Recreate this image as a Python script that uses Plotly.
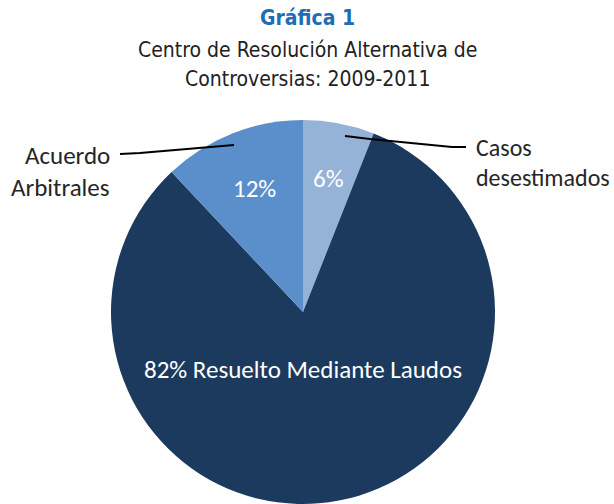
import plotly.graph_objects as go
import math

labels = ["Casos desestimados", "Resuelto Mediante Laudos", "Acuerdo Arbitrales"]
values = [6, 82, 12]
colors = ["#95B3D7", "#1B3A5E", "#5A8FCB"]
inside_text = ["6%", "82% Resuelto Mediante Laudos", "12%"]

W, H = 614, 504
dom_x = [110 / W, 496 / W]
dom_y = [0.0, 1 - 120 / H]

fig = go.Figure(go.Pie(
    labels=labels, values=values, sort=False, direction="clockwise", rotation=0,
    marker=dict(colors=colors, line=dict(width=0)),
    textinfo="none", hoverinfo="label+percent", showlegend=False,
    domain=dict(x=dom_x, y=dom_y),
))

# pie geometry in pixels
R = min((dom_x[1] - dom_x[0]) * W, (dom_y[1] - dom_y[0]) * H) / 2
cx = (dom_x[0] + dom_x[1]) / 2 * W
cy = H - (dom_y[0] + dom_y[1]) / 2 * H

def P(x, y):
    return x / W, 1 - y / H

lab_font = "Carlito, Lato, 'Open Sans', sans-serif"
total = sum(values)
start = 0.0
radial = [0.71, 0.30, 0.69]
ann = []
for i, v in enumerate(values):
    a0 = start
    a1 = start + v / total * 360
    start = a1
    mid = (a0 + a1) / 2
    if v / total > 0.5:
        px, py = cx, cy + radial[i] * R
    else:
        px = cx + radial[i] * R * math.sin(math.radians(mid))
        py = cy - radial[i] * R * math.cos(math.radians(mid))
    x, y = P(px, py)
    ann.append(dict(x=x, y=y, xref="paper", yref="paper", xanchor="center", yanchor="middle",
                    text=inside_text[i], showarrow=False,
                    font=dict(family=lab_font, size=25, color="white")))

# outside labels (one annotation per line)
for txt, xp, yp, xa, sz in [("Acuerdo", 112, 155, "right", 25), ("Arbitrales", 112, 187, "right", 25),
                            ("Casos", 474, 147, "left", 24), ("desestimados", 474, 177, "left", 24)]:
    x, y = P(xp, yp)
    ann.append(dict(x=x, y=y, xref="paper", yref="paper", xanchor=xa, yanchor="middle",
                    text=txt, showarrow=False,
                    font=dict(family=lab_font, size=sz, color="#262626")))

title_font = "'Liberation Sans Narrow', 'DejaVu Sans Condensed', 'Roboto Condensed', sans-serif"
for txt, yp, size, color in [("<b>Gráfica 1</b>", 18, 21, "#1F6DB5"),
                             ("Centro de Resolución Alternativa de", 50, 21, "#222222"),
                             ("Controversias: 2009-2011", 79, 21, "#222222")]:
    x, y = P(307, yp)
    ann.append(dict(x=x, y=y, xref="paper", yref="paper", xanchor="center", yanchor="middle",
                    text=txt, showarrow=False,
                    font=dict(family=title_font, size=size, color=color)))

shapes = []
for pts in [[(120, 154), (140, 153), (234, 145)], [(345, 136), (370, 139), (452, 147), (466, 147)]]:
    path = "M " + " L ".join(f"{P(x, y)[0]},{P(x, y)[1]}" for x, y in pts)
    shapes.append(dict(type="path", path=path, xref="paper", yref="paper",
                       line=dict(color="black", width=2)))

fig.update_layout(
    width=W, height=H, margin=dict(l=0, r=0, t=0, b=0),
    paper_bgcolor="white", plot_bgcolor="white",
    annotations=ann, shapes=shapes,
)
fig.write_html("out.html", config={"displayModeBar": False},
               post_script="document.body.style.margin='0';")
